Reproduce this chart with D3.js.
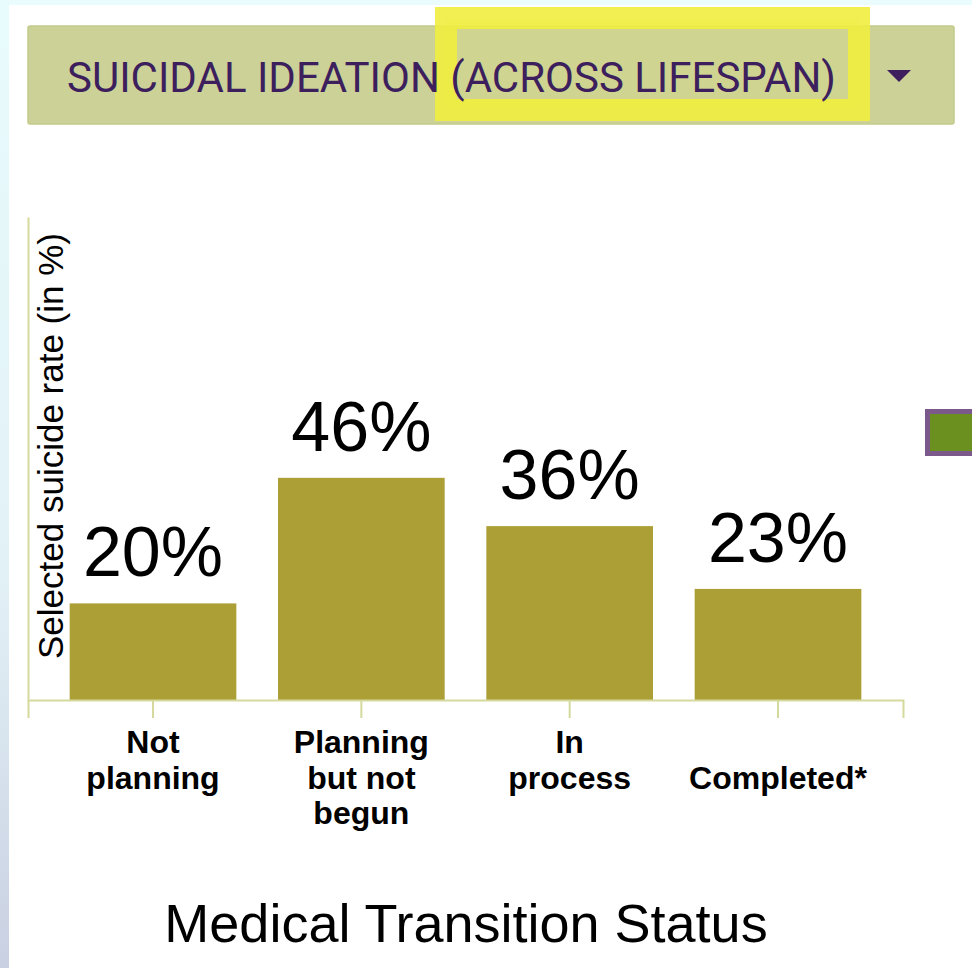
<!DOCTYPE html>
<html>
<head>
<meta charset="utf-8">
<script src="https://cdn.jsdelivr.net/npm/d3@7"></script>
<style>
    html, body { margin: 0; padding: 0; background: #ffffff; }
    #chart { width: 972px; height: 968px; }
</style>
</head>
<body>
<div id="chart"></div>
<script>
(function () {
    var width = 972,
        height = 968;

    // data
    var categories = ["Not planning", "Planning but not begun", "In process", "Completed*"];
    var tickLines = [["Not", "planning"], ["Planning", "but not", "begun"], ["In", "process"], ["", "Completed*"]];
    var rates = [20, 46, 36, 23];
    var title = "SUICIDAL IDEATION (ACROSS LIFESPAN)";

    var svg = d3.select("#chart")
        .append("svg")
        .attr("width", width)
        .attr("height", height);

    var defs = svg.append("defs");
    var grad = defs.append("linearGradient")
        .attr("id", "edge")
        .attr("x1", 0).attr("y1", 0).attr("x2", 0).attr("y2", 1);
    grad.append("stop").attr("offset", "0%").attr("stop-color", "#e8fbfd");
    grad.append("stop").attr("offset", "60%").attr("stop-color", "#e2f1f6");
    grad.append("stop").attr("offset", "100%").attr("stop-color", "#c9d0e2");

    // page edge
    svg.append("rect").attr("x", 0).attr("y", 0).attr("width", width).attr("height", 5).attr("fill", "#eafcfd");
    svg.append("rect").attr("x", 0).attr("y", 0).attr("width", 9).attr("height", height).attr("fill", "url(#edge)");

    // dropdown
    var dd = svg.append("g");
    dd.append("rect")
        .attr("x", 28).attr("y", 26)
        .attr("width", 926).attr("height", 98)
        .attr("rx", 2)
        .attr("fill", "#cbd197")
        .attr("stroke", "#c4ca8c")
        .attr("stroke-width", 1.5);

    // marker highlight, under the text
    dd.append("rect")
        .attr("x", 446).attr("y", 18)
        .attr("width", 413).attr("height", 92)
        .attr("fill", "#f2f060")
        .attr("fill-opacity", 0.12)
        .attr("stroke", "#efed3e")
        .attr("stroke-width", 22)
        .attr("stroke-opacity", 0.9);

    dd.append("text")
        .attr("x", 67).attr("y", 92)
        .attr("font-family", "Roboto")
        .attr("font-size", 42)
        .attr("fill", "#3c1f5c")
        .text(title);
    dd.append("path")
        .attr("d", "M887,70L911,70L899,82Z")
        .attr("fill", "#3c1f5c");

    // legend swatch cut by right edge
    svg.append("rect")
        .attr("x", 927.5).attr("y", 411.5)
        .attr("width", 60).attr("height", 42)
        .attr("fill", "#6b9020")
        .attr("stroke", "#7b5a8b")
        .attr("stroke-width", 5);

    var x = d3.scaleBand()
        .domain(categories)
        .range([28, 903])
        .paddingInner(0.2)
        .paddingOuter(0.2);

    var y = d3.scaleLinear()
        .domain([0, 100])
        .range([700, 217]);

    svg.selectAll(".bar")
        .data(rates)
        .enter().append("rect")
        .attr("class", "bar")
        .attr("x", function (d, i) { return x(categories[i]); })
        .attr("y", function (d) { return y(d); })
        .attr("width", x.bandwidth())
        .attr("height", function (d) { return y(0) - y(d); })
        .attr("fill", "#ab9f35");

    svg.selectAll(".bar-label")
        .data(rates)
        .enter().append("text")
        .attr("class", "bar-label")
        .attr("x", function (d, i) { return x(categories[i]) + x.bandwidth() / 2; })
        .attr("y", function (d) { return y(d) - 27; })
        .attr("text-anchor", "middle")
        .attr("font-family", "Liberation Sans, Arial, sans-serif")
        .attr("font-size", 70)
        .attr("fill", "#000")
        .text(function (d) { return d + "%"; });

    var xAxis = svg.append("g")
        .attr("transform", "translate(0,700)")
        .call(d3.axisBottom(x).tickSize(18).tickSizeOuter(18).tickFormat(""));

    var yAxis = svg.append("g")
        .attr("transform", "translate(28,0)")
        .call(d3.axisLeft(y).ticks(0).tickSizeOuter(0));

    [xAxis, yAxis].forEach(function (g) {
        g.selectAll("path, line")
            .attr("stroke", "#d6d99d")
            .attr("stroke-width", 2);
    });

    xAxis.selectAll(".tick").each(function (d, i) {
        var t = d3.select(this).append("text")
            .attr("fill", "#000")
            .attr("font-family", "Liberation Sans, Arial, sans-serif")
            .attr("font-weight", "bold")
            .attr("font-size", 32)
            .attr("text-anchor", "middle")
            .attr("y", 53);
        tickLines[i].forEach(function (line, k) {
            t.append("tspan")
                .attr("x", 0)
                .attr("dy", k === 0 ? 0 : 35.5)
                .text(line);
        });
    });

    svg.append("text")
        .attr("transform", "translate(63,446) rotate(-90)")
        .attr("text-anchor", "middle")
        .attr("font-family", "Liberation Sans, Arial, sans-serif")
        .attr("font-size", 35)
        .attr("fill", "#000")
        .text("Selected suicide rate (in %)");

    svg.append("text")
        .attr("x", 466).attr("y", 942)
        .attr("text-anchor", "middle")
        .attr("font-family", "Liberation Sans, Arial, sans-serif")
        .attr("font-size", 54)
        .attr("fill", "#000")
        .text("Medical Transition Status");
})();
</script>
</body>
</html>
